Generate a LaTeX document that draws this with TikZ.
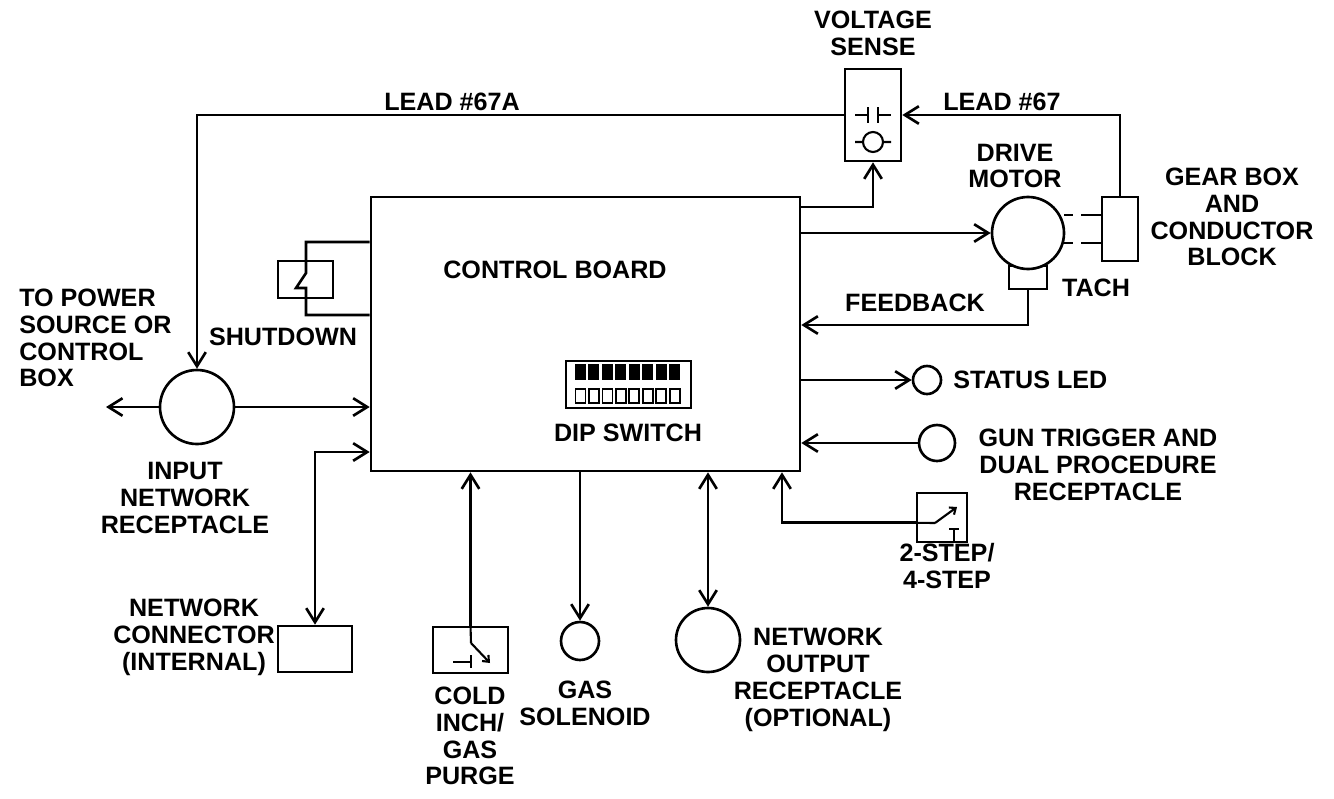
\documentclass[tikz,border=0pt]{standalone}
\usepackage{fontspec}
\setmainfont{Liberation Sans}
\usetikzlibrary{arrows.meta}
\begin{document}
\begin{tikzpicture}[x=0.02cm, y=-0.02cm, line width=1.5pt,
    >={Straight Barb[length=8pt,width=10pt]},
    lbl/.style={align=center, inner sep=0pt, font=\bfseries\fontsize{14.3}{15.3}\selectfont},
    box/.style 2 args={draw, inner sep=0pt, minimum width=#1*0.02cm, minimum height=#2*0.02cm},
    dot/.style={draw, circle, fill=white, inner sep=0pt, minimum size=#1*0.02cm},
    tiny/.style={-{Straight Barb[length=3pt,width=5pt]}, line width=1.2pt}]
  \useasboundingbox (0,0) rectangle (1334,798);
  % blocks
  \node[box={429}{274}] (board) at (585.5,334) {};
  \node[box={56}{92}] (vsense) at (873,115) {};
  \node[box={38}{23}] (tach) at (1028,277.5) {};
  \node[dot=72] (motor) at (1028,233) {};
  \node[box={36}{64}] (gear) at (1120,229) {};
  \node[dot=28] (led) at (927,380) {};
  \node[dot=36] (trig) at (937,443) {};
  \node[box={50}{49}] (step) at (942,517.5) {};
  \node[dot=74] (input) at (197,407) {};
  \node[box={74}{46}] (netconn) at (315,649) {};
  \node[box={75}{46}] (cold) at (470.5,650) {};
  \node[dot=38] (gas) at (580,641) {};
  \node[dot=64] (netout) at (708,640) {};
  \node[box={55}{37}] (shut) at (305.5,279.5) {};
  \node[box={125}{47}] (dip) at (628.5,384.5) {};
  \coordinate (power) at (106,407);

  % labels
  \node[lbl] (tvolt) at (873,33) {VOLTAGE\\SENSE};
  \node[lbl] (t67a) at (452,102) {LEAD \#67A};
  \node[lbl] (t67) at (1002,102) {LEAD \#67};
  \node[lbl] (tmotor) at (1015,166) {DRIVE\\MOTOR};
  \node[lbl] (tgear) at (1232,217) {GEAR BOX\\AND\\CONDUCTOR\\BLOCK};
  \node[lbl] (ttach) at (1096,288) {TACH};
  \node[lbl] (tfeed) at (915,303) {FEEDBACK};
  \node[lbl] (tboard) at (555,270) {CONTROL BOARD};
  \node[lbl] (tshut) at (283,337) {SHUTDOWN};
  \node[lbl, align=left, anchor=west] (tpower) at (18,338) {TO POWER\\SOURCE OR\\CONTROL\\BOX};
  \node[lbl] (tinput) at (185,498) {INPUT\\NETWORK\\RECEPTACLE};
  \node[lbl] (tdip) at (628,433) {DIP SWITCH};
  \node[lbl, anchor=west] (tled) at (952,380) {STATUS LED};
  \node[lbl] (ttrig) at (1098,465) {GUN TRIGGER AND\\DUAL PROCEDURE\\RECEPTACLE};
  \node[lbl] (tstep) at (947,566) {2-STEP/\\4-STEP};
  \node[lbl] (tnetc) at (194,637) {NETWORK\\CONNECTOR\\(INTERNAL)};
  \node[lbl] (tcold) at (470,736) {COLD\\INCH/\\GAS\\PURGE};
  \node[lbl] (tgas) at (585,703) {GAS\\SOLENOID};
  \node[lbl] (tnetout) at (818,680) {NETWORK\\OUTPUT\\RECEPTACLE\\(OPTIONAL)};

  % connectors
  \draw[->] (vsense.west) -| (input.north);
  \draw[->] (gear.north) |- (vsense.east);
  \draw[->] (board.east |- 0,207) -| (vsense.south);
  \draw[->] (motor.west -| board.east) -- (motor.west);
  \draw[->] (tach.south) |- (board.east |- 0,325);
  \draw[->] (led.west -| board.east) -- (led.west);
  \draw[->] (trig.west) -- (trig.west -| board.east);
  \draw[->] ([yshift=-3pt]step.west) -| (board.south -| 782,0);
  \draw[->] (cold.north) -- (cold.north |- board.south);
  \draw[->] (gas.north |- board.south) -- (gas.north);
  \draw[<->] (netout.north |- board.south) -- (netout.north);
  \draw[<->] (netconn.north) |- (board.west |- 0,452);
  \draw[->] (input.east) -- (input.east -| board.west);
  \draw[->] (input.west) -- (power);
  \draw[dash pattern={on 11pt off 5pt on 5pt off 30pt}] (gear.west |- 0,215) -- (1063,215);
  \draw[dash pattern={on 11pt off 5pt on 5pt off 30pt}] (gear.west |- 0,243) -- (1063,243);

  % symbols
  \draw (board.west |- 0,242) -| (306,273) -- (296,288) -- (306,288) |- (board.west |- 0,315);
  \begin{scope}[line width=1.2pt]
    \draw (855,115) -- (868,115) (868,107) -- (868,123)
          (878,107) -- (878,123) (878,115) -- (891,115);
    \draw (873,142) circle[radius=10] (855,142) -- (863,142) (883,142) -- (891,142);
    \draw (cold.north) -- (471,643);
    \draw[tiny] (471,643) -- (490,663);
    \draw (453,662) -- (471,662) (471,655) -- (471,668);
    \draw ([yshift=-3pt]step.west) -- (935,523);
    \draw[tiny] (935,523) -- (957,507);
    \draw (949,529) -- (959,529) (954,529) -- (954,542);
  \end{scope}
  \foreach \i in {0,...,7} {
    \fill (575+\i*13.45,364) rectangle ++(11,16);
    \draw[line width=1pt] (575.5+\i*13.45,389) rectangle ++(10,14);
  }
\end{tikzpicture}
\end{document}
